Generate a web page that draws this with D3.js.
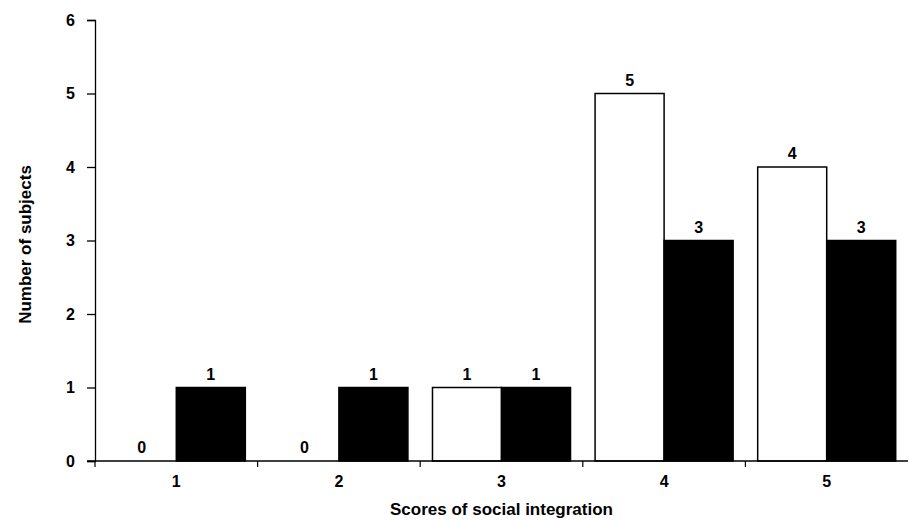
<!DOCTYPE html>
<html>
<head>
<meta charset="utf-8">
<script src="https://cdn.jsdelivr.net/npm/d3@7"></script>
<style>
  body { margin: 0; background: #fff; }
  text { font-family: "Liberation Sans", Arial, sans-serif; font-weight: bold; }
</style>
</head>
<body>
<svg id="chart" width="909" height="520"></svg>
<script>
// scores of social integration and the two groups
const scores = ['1', '2', '3', '4', '5'];
const groupA = [0, 0, 1, 5, 4];   // open bars
const groupB = [1, 1, 1, 3, 3];   // filled bars
const yTicks = [0, 1, 2, 3, 4, 5, 6];

const margin = { top: 20, right: 1, bottom: 59, left: 95 };
const width = 909, height = 520;

const svg = d3.select('#chart');

const x = d3.scaleBand()
    .domain(scores)
    .range([margin.left, width - margin.right])
    .paddingInner(0)
    .paddingOuter(0);

const x1 = d3.scaleBand()
    .domain(['A', 'B'])
    .range([0, x.bandwidth()])
    .paddingOuter(0.178)
    .paddingInner(0);

const y = d3.scaleLinear()
    .domain([0, 6])
    .range([height - margin.bottom, margin.top]);

const rows = scores.map((s, i) => ({ score: s, values: [
    { key: 'A', value: groupA[i] },
    { key: 'B', value: groupB[i] }
] }));

// y axis
const yAxis = svg.append('g')
    .attr('transform', `translate(${margin.left},0)`)
    .call(d3.axisLeft(y).tickValues(yTicks).tickSize(8).tickPadding(12).tickFormat(d3.format('d')));
yAxis.selectAll('text').attr('font-size', 16).attr('fill', '#000');
yAxis.selectAll('line, path').attr('stroke', '#000').attr('stroke-width', 1.3);

// bars
const groups = svg.append('g')
    .selectAll('g')
    .data(rows)
    .join('g')
    .attr('transform', d => `translate(${x(d.score)},0)`);

groups.selectAll('rect')
    .data(d => d.values.filter(v => v.value > 0))
    .join('rect')
    .attr('x', d => x1(d.key))
    .attr('y', d => y(d.value))
    .attr('width', x1.bandwidth())
    .attr('height', d => y(0) - y(d.value))
    .attr('fill', d => d.key === 'A' ? '#fff' : '#000')
    .attr('stroke', '#000')
    .attr('stroke-width', 1.5);

groups.selectAll('text')
    .data(d => d.values)
    .join('text')
    .attr('x', d => x1(d.key) + x1.bandwidth() / 2)
    .attr('y', d => y(d.value) - 8)
    .attr('text-anchor', 'middle')
    .attr('font-size', 16)
    .text(d => d.value);

// x axis with ticks at the category boundaries
const xAxis = svg.append('g')
    .attr('transform', `translate(0,${y(0)})`);
xAxis.append('line')
    .attr('x1', margin.left - 8)
    .attr('x2', width - margin.right)
    .attr('stroke', '#000')
    .attr('stroke-width', 1.3);
xAxis.selectAll('.tick')
    .data(scores.map(s => x(s)))
    .join('line')
    .attr('x1', d => d)
    .attr('x2', d => d)
    .attr('y2', 6)
    .attr('stroke', '#000')
    .attr('stroke-width', 1.2);
xAxis.selectAll('text')
    .data(scores)
    .join('text')
    .attr('x', d => x(d) + x.bandwidth() / 2)
    .attr('y', 26)
    .attr('text-anchor', 'middle')
    .attr('font-size', 16)
    .text(d => d);

// axis titles
svg.append('text')
    .attr('x', (margin.left + width - margin.right) / 2)
    .attr('y', 515)
    .attr('text-anchor', 'middle')
    .attr('font-size', 17)
    .text('Scores of social integration');

svg.append('text')
    .attr('transform', `translate(31,${(y(0) + y(6)) / 2 + 4}) rotate(-90)`)
    .attr('text-anchor', 'middle')
    .attr('font-size', 17)
    .text('Number of subjects');
</script>
</body>
</html>
